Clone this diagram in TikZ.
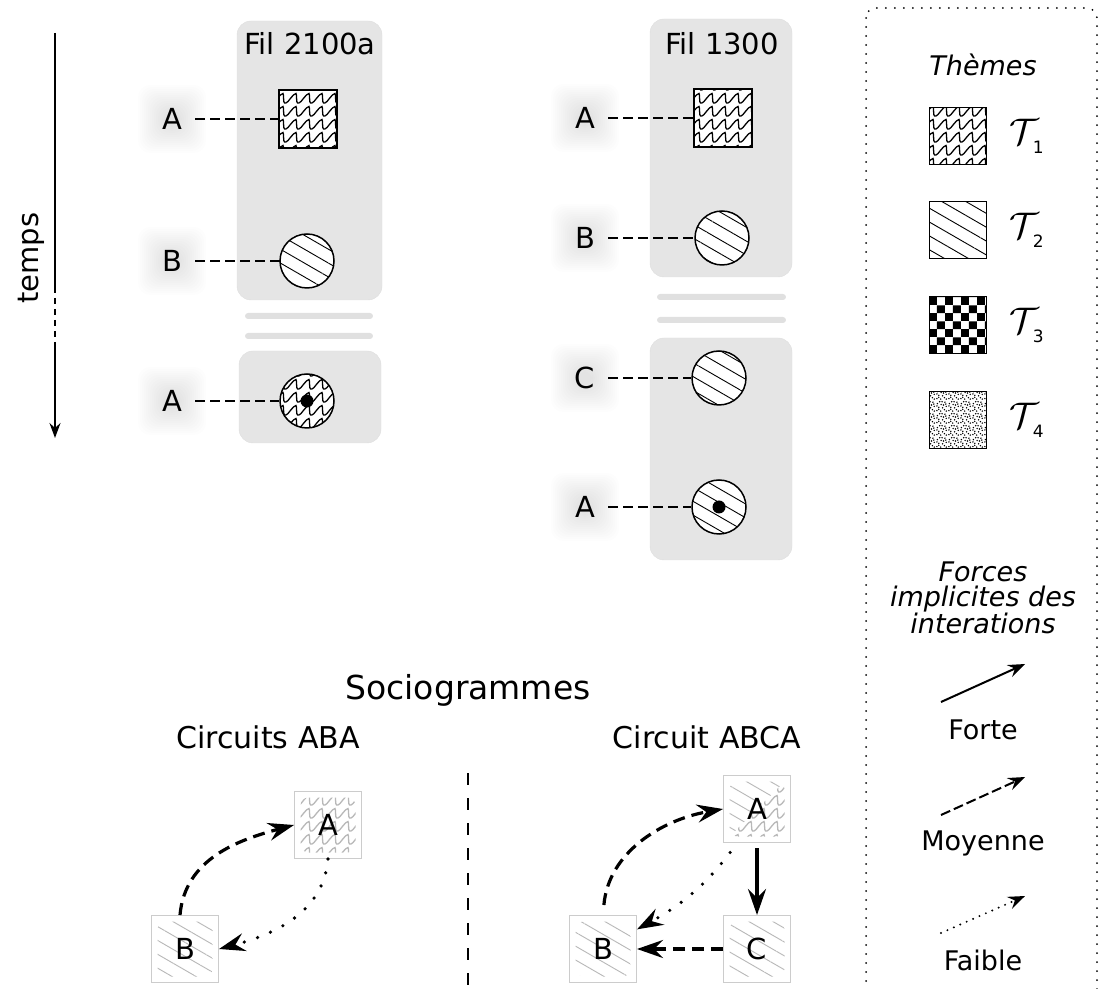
\RequirePackage{fix-cm}
\documentclass[tikz,border=0pt]{standalone}
\usepackage{fontspec}
\setmainfont{DejaVu Sans}[ItalicFont={DejaVu Sans Oblique}]
\usetikzlibrary{positioning,patterns,patterns.meta,arrows.meta,backgrounds,calc}

% theme T1: waves
\pgfdeclarepatternformonly{waves}{\pgfqpoint{-1pt}{-1pt}}{\pgfqpoint{14pt}{14pt}}{\pgfqpoint{13pt}{13pt}}{%
  \pgfsetlinewidth{1.3pt}
  \pgfpathmoveto{\pgfqpoint{0pt}{1pt}}
  \pgfpathcurveto{\pgfqpoint{2pt}{1pt}}{\pgfqpoint{7pt}{10.5pt}}{\pgfqpoint{10pt}{10.5pt}}
  \pgfpathcurveto{\pgfqpoint{10.8pt}{10.5pt}}{\pgfqpoint{10.2pt}{1pt}}{\pgfqpoint{11.5pt}{1pt}}
  \pgfpathlineto{\pgfqpoint{13pt}{1pt}}
  \pgfusepathqstroke
}
% theme T3: checkerboard
\pgfdeclarepatternformonly{checks}{\pgfpointorigin}{\pgfqpoint{16.3pt}{16.3pt}}{\pgfqpoint{16.3pt}{16.3pt}}{%
  \pgfpathrectangle{\pgfpointorigin}{\pgfqpoint{8.15pt}{8.15pt}}
  \pgfpathrectangle{\pgfqpoint{8.15pt}{8.15pt}}{\pgfqpoint{8.15pt}{8.15pt}}
  \pgfusepathqfill
}
% theme T4: stipple
\pgfdeclarepatternformonly{stipple}{\pgfpointorigin}{\pgfqpoint{12pt}{12pt}}{\pgfqpoint{12pt}{12pt}}{%
  \foreach \x/\y in {1/1.5,5/1,9/2.5,3/5,7/4.5,11/6,1.5/9,5.5/8,9.5/10.5,4/11,8/7.5,11/1,
                     3/2.8,6.5/11,10.5/8.5,1/6.5}
    {\pgfpathcircle{\pgfqpoint{\x pt}{\y pt}}{0.85pt}}
  \pgfusepathqfill
}

\newcommand\glow[1]{%
  \foreach \g in {0,...,13}
    \fill[black, opacity=.006, rounded corners=12pt]
      ($(#1)+(-8-2*\g,-8-2*\g)$) rectangle ($(#1)+(8+2*\g,8+2*\g)$);
}
\newcommand\insetclip{%
  \clip[rounded corners=8pt]
    ([shift={(6pt,6pt)}]path picture bounding box.south west) rectangle
    ([shift={(-6pt,-6pt)}]path picture bounding box.north east);
}
\newcommand\tname[1]{{\fontsize{37}{37}\selectfont$\mathcal{T}$}\kern-6pt\raisebox{-9pt}{\fontsize{17}{17}\selectfont #1}}

\tikzset{
  panel/.style={fill=black!10, draw=black!13, rounded corners=14pt},
  gapbar/.style={fill=black!12, rounded corners=3pt},
  lbl/.style={minimum size=46pt, inner sep=0pt},
  link/.style={line width=1.8pt, dash pattern=on 10pt off 5pt},
  timeline/.style={line width=1.8pt},
  msg/.style={draw, line width=1.5pt, inner sep=0pt, preaction={fill=white}},
  msgbox/.style={msg, rectangle, minimum size=58pt},
  msgdot/.style={msg, circle, minimum size=54pt},
  reply/.style={path picture={\fill[fill=black] (path picture bounding box.center) circle (6.5pt);}},
  tone/.style={pattern=waves},
  ttwo/.style={pattern={Lines[angle=-30,distance=12pt,line width=0.9pt]}},
  tthree/.style={pattern=checks},
  tfour/.style={pattern=stipple},
  keyframe/.style={line width=2pt, line cap=round, dash pattern=on 0pt off 9pt, rounded corners=10pt},
  keybox/.style={draw, line width=1.3pt, minimum size=57pt, inner sep=0pt, preaction={fill=white}},
  keytext/.style={font=\fontsize{27}{25.5}\selectfont, align=center},
  tlabel/.style={inner sep=0pt},
  keyarrow/.style={line width=2pt, -{Stealth[length=17pt,width=13pt,inset=6pt]}},
  socio/.style={draw=black!20, line width=1pt, fill=white, minimum size=67pt, inner sep=0pt},
  sociowave/.style={socio, path picture={\insetclip
    \fill[pattern=waves, pattern color=black!28] (path picture bounding box.south west) rectangle (path picture bounding box.north east);}},
  socioline/.style={socio, path picture={\insetclip
    \fill[pattern={Lines[angle=-30,distance=12pt,line width=0.9pt]}, pattern color=black!28] (path picture bounding box.south west) rectangle (path picture bounding box.north east);}},
  sociomix/.style={socio, path picture={\insetclip
    \fill[pattern={Lines[angle=-30,distance=12pt,line width=0.9pt]}, pattern color=black!28] (path picture bounding box.north west) -- (path picture bounding box.north east) -- (path picture bounding box.south west) -- cycle;
    \fill[pattern=waves, pattern color=black!28] (path picture bounding box.north east) -- (path picture bounding box.south east) -- (path picture bounding box.south west) -- cycle;}},
  strong/.style={line width=3.2pt, -{Stealth[length=26pt,width=18pt,inset=9pt]}},
  medium/.style={strong, dash pattern=on 12pt off 7pt},
  weak/.style={strong, line width=3.6pt, line cap=round, dash pattern=on 0pt off 14pt}
}

\begin{document}
\begin{tikzpicture}[x=1pt, y=1pt, font=\fontsize{29}{34}\selectfont]
  \useasboundingbox (0,0) rectangle (1099,988);

  % temps
  \coordinate (t0) at (55,955);
  \coordinate (t1) at (55,701);
  \coordinate (t2) at (55,640);
  \coordinate (t3) at (55,550);
  \draw[timeline] (t0) -- (t1);
  \draw[timeline, dash pattern=on 6pt off 5pt] (t1) -- (t2);
  \draw[timeline, -{Stealth[length=15pt,width=11pt,inset=5pt]}] (t2) -- (t3);
  \node[rotate=90] (temps) at (31,730) {temps};

  % Fil 2100a
  \draw[panel] (237,967) rectangle (382,688);
  \fill[gapbar] (245,675) rectangle (373,669);
  \fill[gapbar] (245,655) rectangle (373,649);
  \draw[panel] (239,637) rectangle (381,545);
  \node (fil1) at (310,944) {Fil 2100a};
  \node[msgbox, tone] (m1a) at (308,869) {};
  \node[msgdot, ttwo] (m1b) at (307,727) {};
  \node[msgdot, tone, reply] (m1c) at (307,587) {};
  \node[lbl] (l1a) at (172,869) {A};
  \node[lbl] (l1b) at (172,727) {B};
  \node[lbl] (l1c) at (172,587) {A};
  \draw[link] (l1a) -- (m1a);
  \draw[link] (l1b) -- (m1b);
  \draw[link] (l1c) -- (m1c);

  % Fil 1300
  \draw[panel] (650,969) rectangle (792,711);
  \fill[gapbar] (657,694) rectangle (786,688);
  \fill[gapbar] (657,671) rectangle (786,665);
  \draw[panel] (650,650) rectangle (792,428);
  \node (fil2) at (722,944) {Fil 1300};
  \node[msgbox, tone] (m2a) at (723,870) {};
  \node[msgdot, ttwo] (m2b) at (722,750) {};
  \node[msgdot, ttwo] (m2c) at (719,610) {};
  \node[msgdot, ttwo, reply] (m2d) at (719,481) {};
  \node[lbl] (l2a) at (585,870) {A};
  \node[lbl] (l2b) at (585,750) {B};
  \node[lbl] (l2c) at (585,610) {C};
  \node[lbl] (l2d) at (585,481) {A};
  \draw[link] (l2a) -- (m2a);
  \draw[link] (l2b) -- (m2b);
  \draw[link] (l2c) -- (m2c);
  \draw[link] (l2d) -- (m2d);

  \begin{scope}[on background layer]
    \glow{l1a} \glow{l1b} \glow{l1c}
    \glow{l2a} \glow{l2b} \glow{l2c} \glow{l2d}
  \end{scope}

  % legend
  \draw[keyframe] (866,980) rectangle (1097,-12);
  \node[keytext, font=\fontsize{27}{25.5}\selectfont\itshape] (themes) at (983,923) {Thèmes};
  \node[keybox, tone] (k1) at (958,852) {};
  \node[keybox, ttwo] (k2) at (958,758) {};
  \node[keybox, tthree] (k3) at (958,663) {};
  \node[keybox, tfour] (k4) at (958,568) {};
  \node[tlabel, right=22pt of k1] (k1t) {\tname{1}};
  \node[tlabel, right=22pt of k2] (k2t) {\tname{2}};
  \node[tlabel, right=22pt of k3] (k3t) {\tname{3}};
  \node[tlabel, right=22pt of k4] (k4t) {\tname{4}};
  \node[keytext, font=\fontsize{27}{25.5}\selectfont\itshape] (forces) at (983,390)
    {Forces\\implicites des\\interations};
  \node[keytext] (forte) at (983,258) {Forte};
  \node[keytext] (moyenne) at (983,145) {Moyenne};
  \node[keytext] (faible) at (983,28) {Faible};
  \coordinate (f0) at (941,286);  \coordinate (f1) at (1025,324);
  \coordinate (m0) at (941,173);  \coordinate (m1) at (1025,211);
  \coordinate (w0) at (941,55);   \coordinate (w1) at (1025,92);
  \draw[keyarrow] (f0) -- (f1);
  \draw[keyarrow, dash pattern=on 10pt off 4pt] (m0) -- (m1);
  \draw[keyarrow, line width=2.2pt, line cap=round, dash pattern=on 0pt off 7pt] (w0) -- (w1);

  % sociogrammes
  \node[font=\fontsize{33}{38}\selectfont] (socio) at (468,298) {Sociogrammes};
  \node[font=\fontsize{30}{34}\selectfont] (aba) at (268,251) {Circuits ABA};
  \node[font=\fontsize{30}{34}\selectfont] (abca) at (707,251) {Circuit ABCA};
  \coordinate (sep0) at (468,215);
  \coordinate (sep1) at (468,-5);
  \draw[line width=1.8pt, dash pattern=on 12pt off 13pt] (sep0) -- (sep1);

  \node[sociowave] (sA) at (328,163) {A};
  \node[socioline] (sB) at (185,39) {B};
  \draw[medium] ([xshift=-5pt]sB.north) to[out=85, in=195] (sA.west);
  \draw[weak] (sA.south) to[out=-95, in=15] (sB.east);

  \node[sociomix] (cA) at (757,179) {A};
  \node[socioline] (cB) at (603,39) {B};
  \node[socioline] (cC) at (757,39) {C};
  \draw[strong, shorten <=5pt] (cA) -- (cC);
  \draw[medium] (cC) -- (cB);
  \draw[weak, shorten <=12pt] (cA.-120) to[bend left=12] (cB.30);
  \draw[medium, shorten <=10pt] (cB.north) to[out=85, in=190] (cA.west);
\end{tikzpicture}
\end{document}
